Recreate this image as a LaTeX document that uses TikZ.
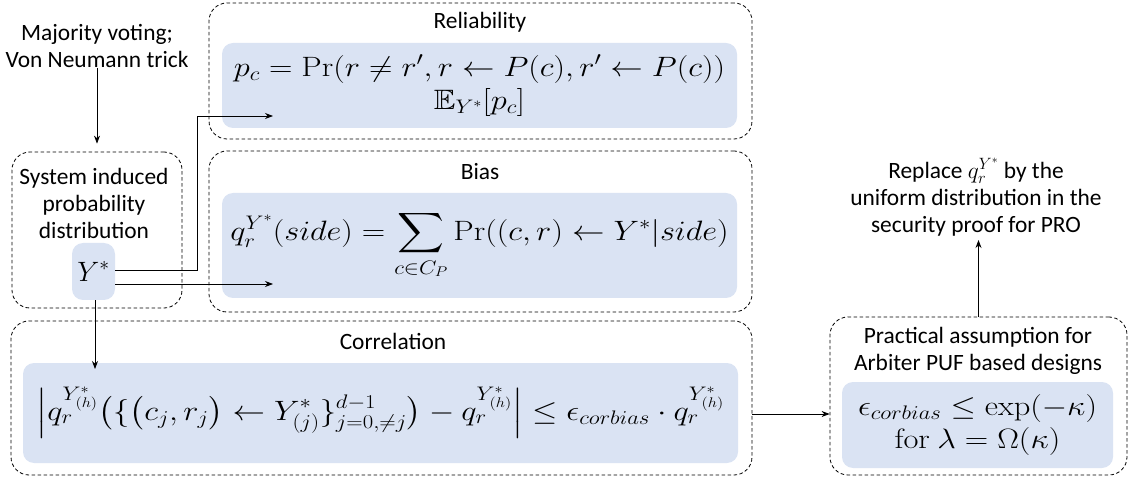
\RequirePackage{fix-cm}
\documentclass[tikz,border=0pt]{standalone}
\usepackage{amsmath,amssymb}
\usepackage{graphicx}
\usepackage[no-math]{fontspec}
\setmainfont{Carlito}
\usetikzlibrary{arrows.meta}

\definecolor{formblue}{HTML}{DAE3F3}
\newcommand{\wideeq}[1]{\scalebox{1.16}[1]{#1}}
\tikzset{
    dashbox/.style={draw, dash pattern=on 3.5pt off 2.5pt, line width=0.8pt, rounded corners=18pt, inner sep=0pt},
    formbox/.style={fill=formblue, rounded corners=11pt, inner sep=0pt, align=center, font=\fontsize{28}{33}\selectfont},
    lbl/.style={font=\fontsize{23.4}{27}\selectfont, align=center, inner sep=0pt},
    arr/.style={-{Stealth[length=8pt,width=6pt]}, line width=0.8pt},
}

\begin{document}
\begin{tikzpicture}[x=1pt, y=-1pt]
        \useasboundingbox (0,0) rectangle (1130,478);

        \node[dashbox, minimum width=543, minimum height=136] (rel) at (480.5,71) {};
        \node[dashbox, minimum width=543, minimum height=161] (bias) at (480.5,231.5) {};
        \node[dashbox, minimum width=741, minimum height=154] (corr) at (381.5,398) {};
        \node[dashbox, minimum width=297, minimum height=158] (prac) at (978.5,396) {};
        \node[dashbox, minimum width=170, minimum height=156] (sys) at (97,230) {};

        \node[lbl] (mv) at (97,46) {Majority voting;\\Von Neumann trick};
        \node[lbl] (systxt) at (94,203) {System induced\\probability\\distribution};
        \node[lbl] (reltitle) at (480,22) {Reliability};
        \node[lbl] (biastitle) at (480,172) {Bias};
        \node[lbl] (corrtitle) at (393,341) {Correlation};
        \node[lbl] (practxt) at (978,351) {Practical assumption for\\Arbiter PUF based designs};
        \node[lbl] (repl) at (976,197) {Replace $q_r^{Y^*}$ by the\\uniform distribution in the\\security proof for PRO};

        \node[formbox, minimum width=43, minimum height=57] (ystar) at (93.5,271.5) {$Y^*$};
        \node[formbox, minimum width=515, minimum height=85] (relf) at (479.5,85.5)
            {\wideeq{$p_c = \Pr(r \neq r', r \leftarrow P(c), r' \leftarrow P(c))$}\\ \wideeq{$\mathbb{E}_{Y^*}[p_c]$}};
        \node[formbox, minimum width=515, minimum height=105] (biasf) at (479.5,245.5)
            {\wideeq{$\displaystyle q_r^{Y^*}(side) = \sum_{c \in C_P} \Pr((c,r) \leftarrow Y^*|side)$}};
        \node[formbox, minimum width=715, minimum height=100] (corrf) at (380.5,413)
            {\wideeq{$\displaystyle \left| q_r^{Y^*_{(h)}}\bigl(\{\bigl(c_j, r_j\bigr) \leftarrow Y^*_{(j)}\}_{j=0,\neq j}^{d-1}\bigr) - q_r^{Y^*_{(h)}} \right| \leq \epsilon_{corbias} \cdot q_r^{Y^*_{(h)}}$}};
        \node[formbox, minimum width=271, minimum height=86] (pracf) at (977.5,425)
            {\wideeq{$\epsilon_{corbias} \leq \exp(-\kappa)$}\\ \wideeq{$\mathrm{for}\ \lambda = \Omega(\kappa)$}};

        \coordinate (relin) at (273,116);
        \coordinate (biasin) at (273,284);
        \coordinate (corrin) at (95,369);

        \draw[arr, shorten >=8pt] (mv) -- (sys);
        \draw[arr] (ystar.east |- 0,270) -- ++(82,0) |- (relin);
        \draw[arr] (ystar.east |- biasin) -- (biasin);
        \draw[arr] (ystar.south -| corrin) -- (corrin);
        \draw[arr] (corr.east |- 0,414) -- (prac.west |- 0,414);
        \draw[arr, shorten >=4pt] (prac.north) -- (prac.north |- repl.south);
    \end{tikzpicture}
\end{document}
